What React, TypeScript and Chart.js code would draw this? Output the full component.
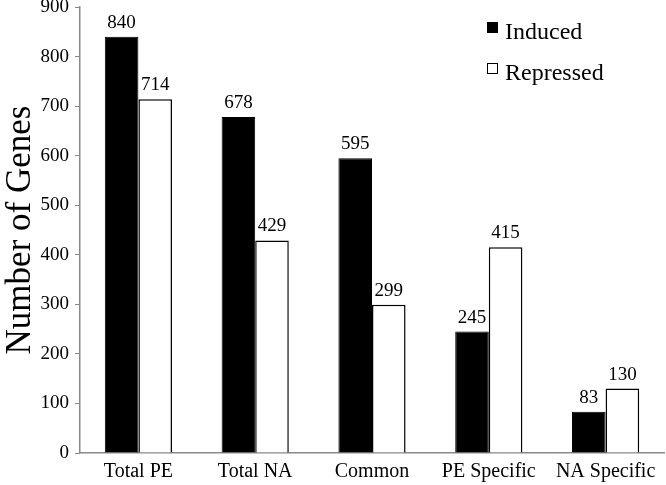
import React, { useEffect, useRef } from "react";
import { Chart, registerables } from "chart.js";

Chart.register(...registerables);

const categories = ["Total PE", "Total NA", "Common", "PE Specific", "NA Specific"];
const induced = [840, 678, 595, 245, 83];
const repressed = [714, 429, 299, 415, 130];
const seriesNames = ["Induced", "Repressed"];

const FONT = "'Liberation Serif', 'Times New Roman', serif";

const valueLabels = {
  id: "valueLabels",
  afterDatasetsDraw(chart: any) {
    const ctx = chart.ctx;
    ctx.save();
    ctx.fillStyle = "#000";
    ctx.font = `19px ${FONT}`;
    ctx.textAlign = "center";
    ctx.textBaseline = "alphabetic";
    chart.data.datasets.forEach((ds: any, i: number) => {
      const meta = chart.getDatasetMeta(i);
      meta.data.forEach((bar: any, j: number) => {
        ctx.fillText(String(ds.data[j]), bar.x, bar.y - 9);
      });
    });
    ctx.restore();
  },
};

const boxLegend = {
  id: "boxLegend",
  afterDraw(chart: any) {
    const ctx = chart.ctx;
    ctx.save();
    const x = 487;
    const boxTops = [22, 63];
    const baselines = [39, 80];
    chart.data.datasets.forEach((ds: any, i: number) => {
      const y = boxTops[i];
      ctx.fillStyle = ds.backgroundColor;
      ctx.fillRect(x, y, 11, 11);
      ctx.strokeStyle = "#000";
      ctx.lineWidth = 1;
      ctx.strokeRect(x + 0.5, y + 0.5, 10, 10);
      ctx.fillStyle = "#000";
      ctx.font = `24px ${FONT}`;
      ctx.textAlign = "left";
      ctx.textBaseline = "alphabetic";
      ctx.fillText(ds.label, x + 18, baselines[i]);
    });
    ctx.restore();
  },
};

export default function App() {
  const ref = useRef<HTMLCanvasElement>(null);
  useEffect(() => {
    if (!ref.current) return;
    const chart = new Chart(ref.current, {
      type: "bar",
      data: {
        labels: categories,
        datasets: [
          {
            label: seriesNames[0],
            data: induced,
            backgroundColor: "#000",
            borderColor: "#000",
            borderWidth: 1,
            barPercentage: 1,
            categoryPercentage: 0.575,
          },
          {
            label: seriesNames[1],
            data: repressed,
            backgroundColor: "#fff",
            borderColor: "#000",
            borderWidth: 1.5,
            barPercentage: 1,
            categoryPercentage: 0.575,
          },
        ],
      },
      options: {
        animation: false,
        responsive: false,
        maintainAspectRatio: false,
        layout: { padding: { top: 7, right: 2, left: 0, bottom: 0 } },
        plugins: {
          legend: { display: false },
          tooltip: { enabled: false },
        },
        scales: {
          x: {
            grid: { display: false, drawTicks: false },
            border: { display: true, color: "#8a8a8a", width: 1.5 },
            ticks: { color: "#000", font: { family: FONT, size: 20 }, padding: 7 },
            afterFit: (s: any) => { s.height = 32; },
          },
          y: {
            min: 0,
            max: 900,
            ticks: { stepSize: 100, color: "#000", font: { family: FONT, size: 19 }, padding: 6 },
            grid: { display: true, drawOnChartArea: false, drawTicks: true, tickLength: 5, color: "#8a8a8a" },
            border: { display: true, color: "#8a8a8a", width: 1.5 },
            title: { display: true, text: "Number of Genes", color: "#000", font: { family: FONT, size: 35 }, padding: { top: 0, bottom: 0 } },
            afterFit: (s: any) => { s.width = 80; s.paddingTop = 0; s.paddingBottom = 0; },
          },
        },
      },
      plugins: [valueLabels, boxLegend],
    });
    return () => chart.destroy();
  }, []);
  return (
    <div style={{ position: "fixed", left: 0, top: 0, width: 666, height: 485, background: "#fff" }}>
      <canvas ref={ref} width={666} height={485} />
    </div>
  );
}
